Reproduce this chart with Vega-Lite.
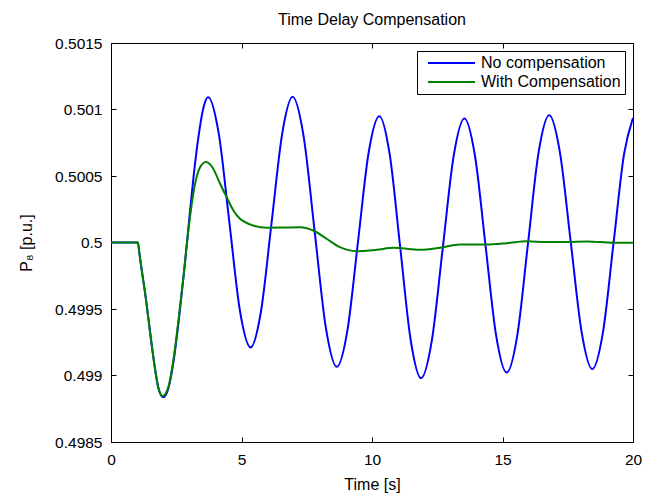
{
  "$schema": "https://vega.github.io/schema/vega-lite/v6.json",
  "width": 522,
  "height": 399,
  "autosize": {"type": "none"},
  "padding": {"left": 111, "top": 43, "right": 20, "bottom": 53},
  "background": "white",
  "title": {
    "text": "Time Delay Compensation",
    "fontSize": 16,
    "fontWeight": "normal",
    "font": "Liberation Sans",
    "color": "black",
    "anchor": "middle",
    "baseline": "alphabetic",
    "offset": -5
  },
  "config": {
    "font": "Liberation Sans",
    "view": {"stroke": "black", "strokeWidth": 1},
    "axis": {
      "grid": false,
      "domainColor": "black",
      "tickColor": "black",
      "labelColor": "black",
      "titleColor": "black",
      "labelFont": "Liberation Sans",
      "titleFont": "Liberation Sans",
      "labelFontSize": 15.5,
      "titleFontSize": 16,
      "titleFontWeight": "normal",
      "tickSize": -5
    },
    "legend": {
      "orient": "top-right",
      "offset": 8,
      "strokeColor": "black",
      "fillColor": "white",
      "padding": 4,
      "cornerRadius": 0,
      "symbolType": "M-0.167,0H7.667",
      "symbolSize": 144,
      "symbolStrokeWidth": 2,
      "labelFont": "Liberation Sans",
      "labelFontSize": 16,
      "labelColor": "black",
      "labelOffset": 44,
      "rowPadding": 3,
      "labelLimit": 300
    }
  },
  "data": {
    "values": [
      {"t": 0, "v": 0.5, "s": "No compensation"},
      {"t": 1.03, "v": 0.5, "s": "No compensation"},
      {"t": 1.08, "v": 0.49993, "s": "No compensation"},
      {"t": 1.18, "v": 0.499789, "s": "No compensation"},
      {"t": 1.33, "v": 0.499588, "s": "No compensation"},
      {"t": 1.49, "v": 0.499337, "s": "No compensation"},
      {"t": 1.66, "v": 0.499086, "s": "No compensation"},
      {"t": 1.81, "v": 0.49891, "s": "No compensation"},
      {"t": 2.0, "v": 0.498837, "s": "No compensation"},
      {"t": 2.2, "v": 0.498905, "s": "No compensation"},
      {"t": 2.4, "v": 0.49911, "s": "No compensation"},
      {"t": 2.6, "v": 0.49942, "s": "No compensation"},
      {"t": 2.8, "v": 0.49978, "s": "No compensation"},
      {"t": 3.0, "v": 0.50018, "s": "No compensation"},
      {"t": 3.2, "v": 0.50056, "s": "No compensation"},
      {"t": 3.4, "v": 0.50086, "s": "No compensation"},
      {"t": 3.55, "v": 0.50102, "s": "No compensation"},
      {"t": 3.72, "v": 0.501093, "s": "No compensation"},
      {"t": 4.13, "v": 0.500817, "s": "No compensation"},
      {"t": 4.535, "v": 0.500152, "s": "No compensation"},
      {"t": 4.94, "v": 0.499487, "s": "No compensation"},
      {"t": 5.35, "v": 0.499211, "s": "No compensation"},
      {"t": 5.75, "v": 0.499487, "s": "No compensation"},
      {"t": 6.155, "v": 0.500153, "s": "No compensation"},
      {"t": 6.56, "v": 0.500819, "s": "No compensation"},
      {"t": 6.96, "v": 0.501095, "s": "No compensation"},
      {"t": 7.38, "v": 0.500798, "s": "No compensation"},
      {"t": 7.805, "v": 0.50008, "s": "No compensation"},
      {"t": 8.23, "v": 0.499362, "s": "No compensation"},
      {"t": 8.65, "v": 0.499065, "s": "No compensation"},
      {"t": 9.06, "v": 0.499341, "s": "No compensation"},
      {"t": 9.465, "v": 0.500008, "s": "No compensation"},
      {"t": 9.87, "v": 0.500675, "s": "No compensation"},
      {"t": 10.28, "v": 0.50095, "s": "No compensation"},
      {"t": 10.68, "v": 0.500661, "s": "No compensation"},
      {"t": 11.08, "v": 0.499965, "s": "No compensation"},
      {"t": 11.48, "v": 0.499269, "s": "No compensation"},
      {"t": 11.88, "v": 0.49898, "s": "No compensation"},
      {"t": 12.295, "v": 0.499266, "s": "No compensation"},
      {"t": 12.71, "v": 0.499956, "s": "No compensation"},
      {"t": 13.125, "v": 0.500646, "s": "No compensation"},
      {"t": 13.54, "v": 0.500932, "s": "No compensation"},
      {"t": 13.945, "v": 0.500652, "s": "No compensation"},
      {"t": 14.35, "v": 0.499977, "s": "No compensation"},
      {"t": 14.755, "v": 0.499302, "s": "No compensation"},
      {"t": 15.16, "v": 0.499022, "s": "No compensation"},
      {"t": 15.57, "v": 0.499306, "s": "No compensation"},
      {"t": 15.975, "v": 0.49999, "s": "No compensation"},
      {"t": 16.38, "v": 0.500674, "s": "No compensation"},
      {"t": 16.79, "v": 0.500957, "s": "No compensation"},
      {"t": 17.2, "v": 0.500678, "s": "No compensation"},
      {"t": 17.615, "v": 0.500003, "s": "No compensation"},
      {"t": 18.03, "v": 0.499328, "s": "No compensation"},
      {"t": 18.44, "v": 0.499048, "s": "No compensation"},
      {"t": 18.85, "v": 0.499326, "s": "No compensation"},
      {"t": 19.255, "v": 0.499997, "s": "No compensation"},
      {"t": 19.66, "v": 0.500668, "s": "No compensation"},
      {"t": 20, "v": 0.500937, "s": "No compensation"},
      {"t": 0, "v": 0.5, "s": "With Compensation"},
      {"t": 1.03, "v": 0.5, "s": "With Compensation"},
      {"t": 1.08, "v": 0.49993, "s": "With Compensation"},
      {"t": 1.18, "v": 0.499789, "s": "With Compensation"},
      {"t": 1.33, "v": 0.499588, "s": "With Compensation"},
      {"t": 1.49, "v": 0.499337, "s": "With Compensation"},
      {"t": 1.66, "v": 0.499086, "s": "With Compensation"},
      {"t": 1.81, "v": 0.498912, "s": "With Compensation"},
      {"t": 1.98, "v": 0.498845, "s": "With Compensation"},
      {"t": 2.2, "v": 0.498915, "s": "With Compensation"},
      {"t": 2.4, "v": 0.49913, "s": "With Compensation"},
      {"t": 2.6, "v": 0.49944, "s": "With Compensation"},
      {"t": 2.8, "v": 0.49979, "s": "With Compensation"},
      {"t": 3.0, "v": 0.50015, "s": "With Compensation"},
      {"t": 3.2, "v": 0.50042, "s": "With Compensation"},
      {"t": 3.4, "v": 0.50056, "s": "With Compensation"},
      {"t": 3.64, "v": 0.500605, "s": "With Compensation"},
      {"t": 3.9, "v": 0.50056, "s": "With Compensation"},
      {"t": 4.18, "v": 0.500442, "s": "With Compensation"},
      {"t": 4.43, "v": 0.500341, "s": "With Compensation"},
      {"t": 4.69, "v": 0.500241, "s": "With Compensation"},
      {"t": 4.94, "v": 0.500178, "s": "With Compensation"},
      {"t": 5.33, "v": 0.500136, "s": "With Compensation"},
      {"t": 5.96, "v": 0.500111, "s": "With Compensation"},
      {"t": 6.6, "v": 0.500112, "s": "With Compensation"},
      {"t": 7.24, "v": 0.500115, "s": "With Compensation"},
      {"t": 7.75, "v": 0.50009, "s": "With Compensation"},
      {"t": 8.26, "v": 0.500028, "s": "With Compensation"},
      {"t": 8.77, "v": 0.499965, "s": "With Compensation"},
      {"t": 9.41, "v": 0.499935, "s": "With Compensation"},
      {"t": 10.18, "v": 0.499945, "s": "With Compensation"},
      {"t": 10.82, "v": 0.49996, "s": "With Compensation"},
      {"t": 11.84, "v": 0.499945, "s": "With Compensation"},
      {"t": 12.6, "v": 0.49996, "s": "With Compensation"},
      {"t": 13.37, "v": 0.499985, "s": "With Compensation"},
      {"t": 14.39, "v": 0.499985, "s": "With Compensation"},
      {"t": 15.16, "v": 0.499995, "s": "With Compensation"},
      {"t": 15.93, "v": 0.50001, "s": "With Compensation"},
      {"t": 16.69, "v": 0.500003, "s": "With Compensation"},
      {"t": 17.46, "v": 0.500003, "s": "With Compensation"},
      {"t": 18.23, "v": 0.500008, "s": "With Compensation"},
      {"t": 19.25, "v": 0.499998, "s": "With Compensation"},
      {"t": 20, "v": 0.499998, "s": "With Compensation"}
    ]
  },
  "layer": [
    {
      "mark": {"type": "line", "strokeWidth": 2, "interpolate": "monotone", "clip": true},
      "encoding": {
        "x": {
          "field": "t", "type": "quantitative",
          "scale": {"domain": [0, 20], "nice": false, "zero": false},
          "axis": {"orient": "bottom", "title": "Time [s]", "values": [0, 5, 10, 15, 20], "format": "d", "labelPadding": 15, "titlePadding": 9, "labelFlush": false}
        },
        "y": {
          "field": "v", "type": "quantitative",
          "scale": {"domain": [0.4985, 0.5015], "nice": false, "zero": false},
          "axis": {"orient": "left", "title": "P₈ [p.u.]", "values": [0.4985, 0.499, 0.4995, 0.5, 0.5005, 0.501, 0.5015], "format": "~g", "labelPadding": 14, "titlePadding": 20}
        },
        "color": {
          "field": "s", "type": "nominal",
          "scale": {"domain": ["No compensation", "With Compensation"], "range": ["#0000ff", "#008000"]},
          "legend": {"title": null}
        }
      }
    },
    {
      "mark": {"type": "line", "opacity": 0},
      "encoding": {
        "x": {
          "field": "t", "type": "quantitative",
          "axis": {"orient": "top", "title": null, "labels": false, "values": [0, 5, 10, 15, 20]}
        },
        "y": {
          "field": "v", "type": "quantitative",
          "axis": {"orient": "right", "title": null, "labels": false, "values": [0.4985, 0.499, 0.4995, 0.5, 0.5005, 0.501, 0.5015]}
        },
        "detail": {"field": "s", "type": "nominal"}
      }
    }
  ],
  "resolve": {"axis": {"x": "independent", "y": "independent"}}
}
